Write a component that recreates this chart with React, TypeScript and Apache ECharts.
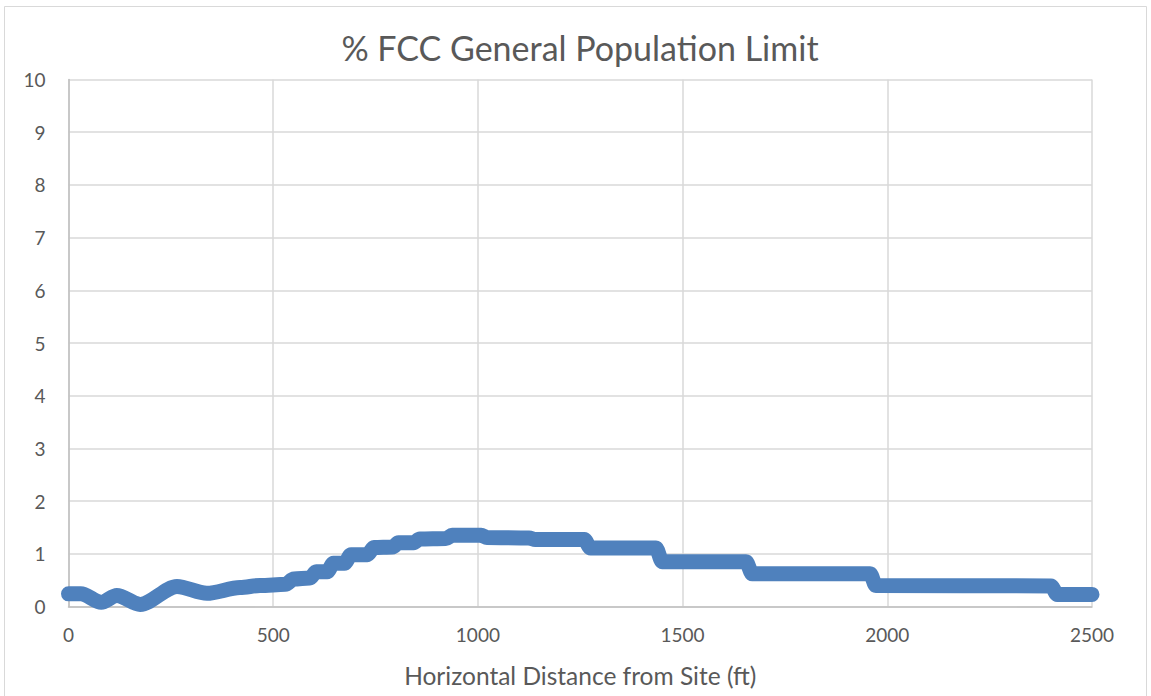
import React, { useEffect, useRef } from "react";
import * as echarts from "echarts";

const distanceFt = [
  0, 30, 80, 118, 175, 265, 338, 419, 468, 530, 550, 590, 605, 632, 647, 674,
  690, 730, 746, 792, 806, 843, 858, 922, 937, 1008, 1022, 1125, 1140, 1260,
  1275, 1435, 1450, 1655, 1670, 1958, 1972, 2400, 2415, 2500,
];
const percentLimit = [
  0.24, 0.24, 0.08, 0.21, 0.04, 0.38, 0.25, 0.36, 0.4, 0.42, 0.52, 0.54, 0.66,
  0.66, 0.82, 0.82, 0.98, 0.98, 1.12, 1.13, 1.21, 1.21, 1.28, 1.29, 1.35, 1.35,
  1.31, 1.3, 1.27, 1.27, 1.11, 1.11, 0.85, 0.85, 0.62, 0.62, 0.4, 0.39, 0.23,
  0.23,
];
const titleText = "% FCC General Population Limit";
const xAxisTitle = "Horizontal Distance from Site (ft)";

export default function App() {
  const ref = useRef<HTMLDivElement>(null);
  useEffect(() => {
    if (!ref.current) return;
    const chart = echarts.init(ref.current, null, { renderer: "svg" });
    const font = "Lato, 'Open Sans', sans-serif";
    const data = distanceFt.map((x, i) => [x, percentLimit[i]]);
    chart.setOption({
      animation: false,
      backgroundColor: "#ffffff",
      title: {
        text: titleText,
        left: 580,
        top: 30,
        padding: 0,
        textAlign: "center",
        textStyle: {
          fontFamily: font,
          fontSize: 34,
          fontWeight: "normal",
          color: "#595959",
        },
      },
      graphic: [
        {
          type: "rect",
          shape: { x: 4.5, y: 6.5, width: 1142, height: 700 },
          style: { fill: "none", stroke: "#d9d9d9", lineWidth: 1 },
          silent: true,
          z: -1,
        },
      ],
      grid: { left: 68.5, right: 59, top: 79.5, bottom: 89.5, containLabel: false },
      xAxis: {
        type: "value",
        min: 0,
        max: 2500,
        interval: 500,
        name: xAxisTitle,
        nameLocation: "middle",
        nameGap: 56,
        nameTextStyle: { fontFamily: font, fontSize: 24.5, color: "#595959" },
        axisLine: { show: true, lineStyle: { color: "#bfbfbf", width: 1.5 } },
        axisTick: { show: false },
        axisLabel: {
          fontFamily: font,
          fontSize: 19,
          color: "#595959",
          margin: 18,
          formatter: (v: number) => String(v),
        },
        splitLine: { show: true, lineStyle: { color: "#d9d9d9", width: 1.5 } },
      },
      yAxis: {
        type: "value",
        min: 0,
        max: 10,
        interval: 1,
        axisLine: { show: true, lineStyle: { color: "#bfbfbf", width: 1.5 } },
        axisTick: { show: false },
        axisLabel: { fontFamily: font, fontSize: 19, color: "#595959", margin: 23 },
        splitLine: { show: true, lineStyle: { color: "#d9d9d9", width: 1.5 } },
      },
      series: [
        {
          type: "line",
          data,
          smooth: 0.3,
          smoothMonotone: "x",
          showSymbol: false,
          symbol: "none",
          lineStyle: { color: "#4f81bd", width: 15, cap: "round", join: "round" },
        },
      ],
    });
    return () => chart.dispose();
  }, []);
  return (
    <div
      ref={ref}
      style={{ position: "fixed", left: 0, top: 0, width: 1151, height: 696 }}
    />
  );
}
